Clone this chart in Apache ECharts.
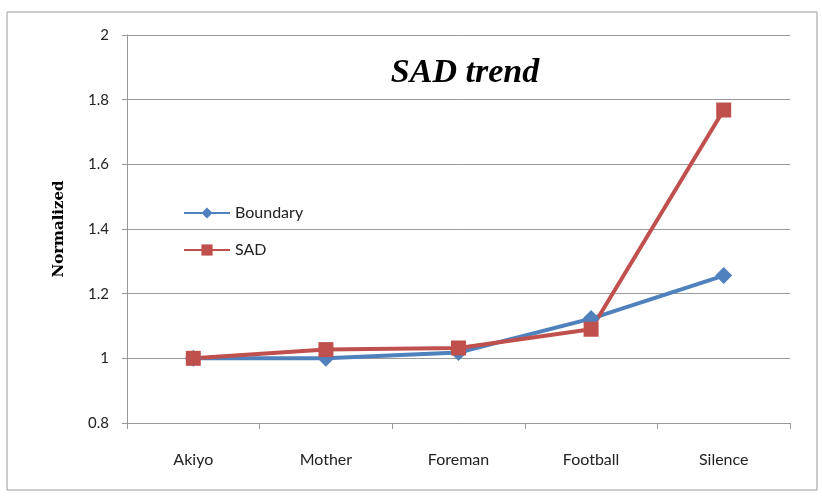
<!DOCTYPE html>
<html>
<head>
<meta charset="utf-8">
<script src="https://cdn.jsdelivr.net/npm/echarts@6/dist/echarts.min.js"></script>
<style>
  html, body { margin: 0; padding: 0; background: #fff; }
  #chart { width: 822px; height: 496px; }
</style>
</head>
<body>
<div id="chart"></div>
<script>
// 类别与数据
const categories = ["Akiyo", "Mother", "Foreman", "Football", "Silence"];
const boundaryData = [1.0, 1.0, 1.018, 1.123, 1.256];
const sadData = [1.0, 1.027, 1.032, 1.09, 1.768];
const yTicks = { min: 0.8, max: 2, interval: 0.2 };

const myChart = echarts.init(document.querySelector("#chart"));
const option = {
  // 外边框
  graphic: [
    {
      type: "rect",
      shape: { x: 7, y: 12, width: 810, height: 478 },
      style: { fill: "none", stroke: "#9a9a9a", lineWidth: 1 },
    },
  ],
  title: {
    text: "SAD trend",
    left: 460,
    top: 51,
    textAlign: "center",
    textStyle: {
      fontFamily: "Liberation Serif",
      fontStyle: "italic",
      fontWeight: "bold",
      fontSize: 34,
      color: "#000",
    },
  },
  legend: {
    orient: "vertical",
    left: 178,
    top: 200,
    itemWidth: 46,
    itemHeight: 14,
    itemGap: 21,
    textStyle: { fontFamily: "Lato", fontSize: 16, color: "#222" },
    data: ["Boundary", "SAD"],
  },
  grid: { left: 127, right: 32, top: 35, bottom: 73 },
  xAxis: {
    type: "category",
    data: categories,
    boundaryGap: true,
    axisLine: { lineStyle: { color: "#999", width: 1 } },
    axisTick: { show: true, length: 6, lineStyle: { color: "#999" } },
    axisLabel: { fontFamily: "Lato", fontSize: 16, color: "#222", margin: 29 },
  },
  yAxis: {
    type: "value",
    min: yTicks.min,
    max: yTicks.max,
    interval: yTicks.interval,
    name: "Normalized",
    nameLocation: "middle",
    nameGap: 60,
    nameTextStyle: {
      fontFamily: "DejaVu Serif",
      fontWeight: "bold",
      fontSize: 15,
      color: "#000",
    },
    axisLine: { show: true, lineStyle: { color: "#999" } },
    axisTick: { show: true, length: 5, lineStyle: { color: "#999" } },
    splitLine: { lineStyle: { color: "#999", width: 1 } },
    axisLabel: {
      fontFamily: "Lato",
      fontSize: 15,
      color: "#222",
      margin: 18,
      formatter: (v) => String(Math.round(v * 10) / 10),
    },
  },
  series: [
    {
      name: "Boundary",
      type: "line",
      data: boundaryData,
      symbol: "diamond",
      symbolSize: 17,
      itemStyle: { color: "#4F81BD" },
      lineStyle: { width: 4, color: "#4F81BD" },
    },
    {
      name: "SAD",
      type: "line",
      data: sadData,
      symbol: "rect",
      symbolSize: 15,
      itemStyle: { color: "#C0504D" },
      lineStyle: { width: 4, color: "#C0504D" },
    },
  ],
};
myChart.setOption(option);
</script>
</body>
</html>
